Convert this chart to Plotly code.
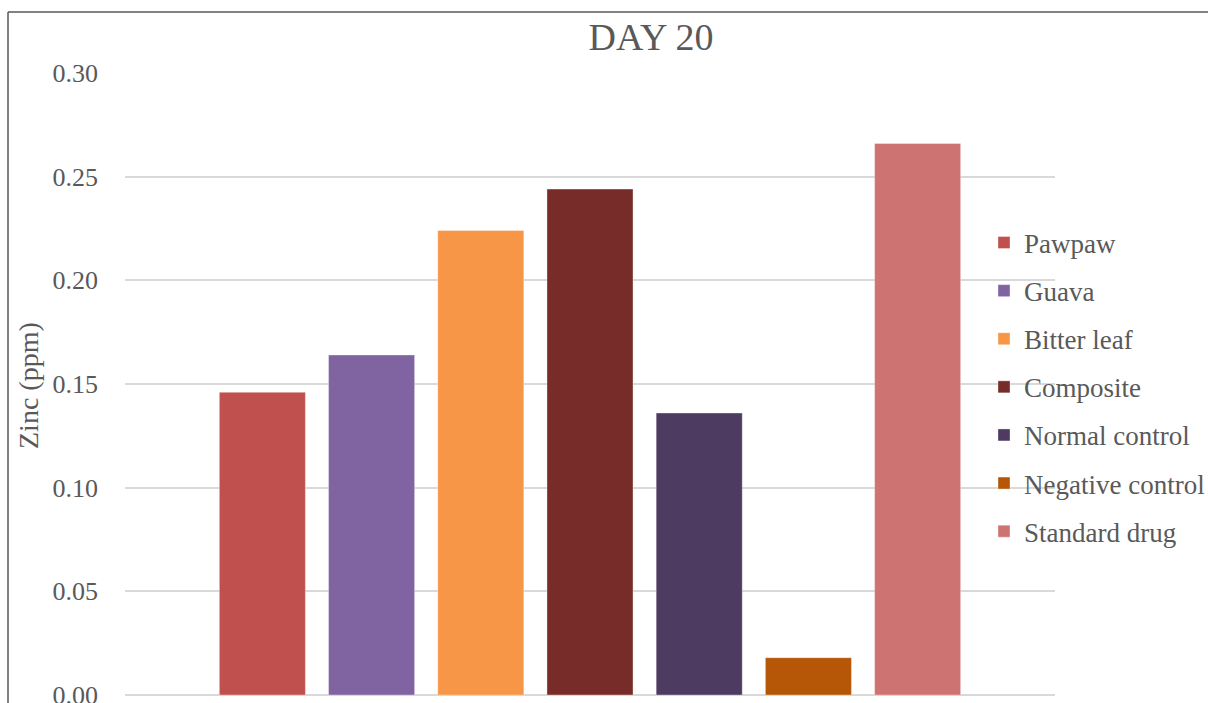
import plotly.graph_objects as go

categories = ["Day 20"]
series_names = ["Pawpaw", "Guava", "Bitter leaf", "Composite",
                "Normal control", "Negative control", "Standard drug"]
zinc_values = [0.146, 0.164, 0.224, 0.244, 0.136, 0.018, 0.266]
colors = ["#C0504D", "#8064A2", "#F79646", "#772C2A",
          "#4D3B62", "#B65708", "#CD7371"]
y_ticks = [0.00, 0.05, 0.10, 0.15, 0.20, 0.25, 0.30]
y_tick_labels = ["0.00", "0.05", "0.10", "0.15", "0.20", "0.25", "0.30"]

W, H = 1208, 703
L, R, T, B = 125, 153, 73, 8
pw, ph = W - L - R, H - T - B

def px_x(x):
    return (x - L) / pw

def px_y(y):
    return (H - B - y) / ph

font_family = "Liberation Serif"
txt = "#595959"

fig = go.Figure()
for name, val, col in zip(series_names, zinc_values, colors):
    fig.add_trace(go.Bar(
        x=categories, y=[val], name=name, legendgroup=name,
        marker=dict(color=col, line=dict(color="rgba(255,255,255,0.35)", width=1)),
    ))

fig.update_layout(
    width=W, height=H,
    margin=dict(l=L, r=R, t=T, b=B, pad=0, autoexpand=False),
    paper_bgcolor="white", plot_bgcolor="white",
    barmode="group", bargap=0.178, bargroupgap=0.212,
    font=dict(family=font_family, color=txt, size=24),
    title=dict(text="DAY 20", x=px_x(651), xref="paper", xanchor="center",
               y=1 - 37 / H, yref="container", yanchor="middle",
               font=dict(family=font_family, size=38, color=txt)),
    showlegend=True,
    legend=dict(x=px_x(984), xanchor="left", y=px_y(387), yanchor="middle",
                font=dict(family=font_family, size=27, color=txt),
                tracegroupgap=10, bgcolor="rgba(0,0,0,0)", itemwidth=30),
    xaxis=dict(showticklabels=False, showgrid=False, zeroline=False,
               showline=False, ticks="", automargin=False),
    yaxis=dict(range=[0, 0.30], tickvals=y_ticks, ticktext=y_tick_labels,
               showgrid=True, gridcolor="#D9D9D9", gridwidth=1.5,
               zeroline=True, zerolinecolor="#D9D9D9", zerolinewidth=1.5,
               showline=False, ticks="", ticklabelstandoff=26,
               ticklabeloverflow="allow", automargin=False,
               tickfont=dict(family=font_family, size=26, color=txt)),
    annotations=[dict(text="Zinc (ppm)", textangle=-90, showarrow=False,
                      xref="paper", yref="paper", x=px_x(28), y=px_y(386),
                      xanchor="center", yanchor="middle",
                      font=dict(family=font_family, size=28, color=txt))],
    shapes=[
        dict(type="line", xref="paper", yref="paper",
             x0=px_x(8), x1=px_x(8), y0=px_y(705), y1=px_y(12),
             line=dict(color="#595959", width=1.5)),
        dict(type="line", xref="paper", yref="paper",
             x0=px_x(8), x1=px_x(1210), y0=px_y(12), y1=px_y(12),
             line=dict(color="#595959", width=1.5)),
    ],
)

fig.write_html("out.html")
